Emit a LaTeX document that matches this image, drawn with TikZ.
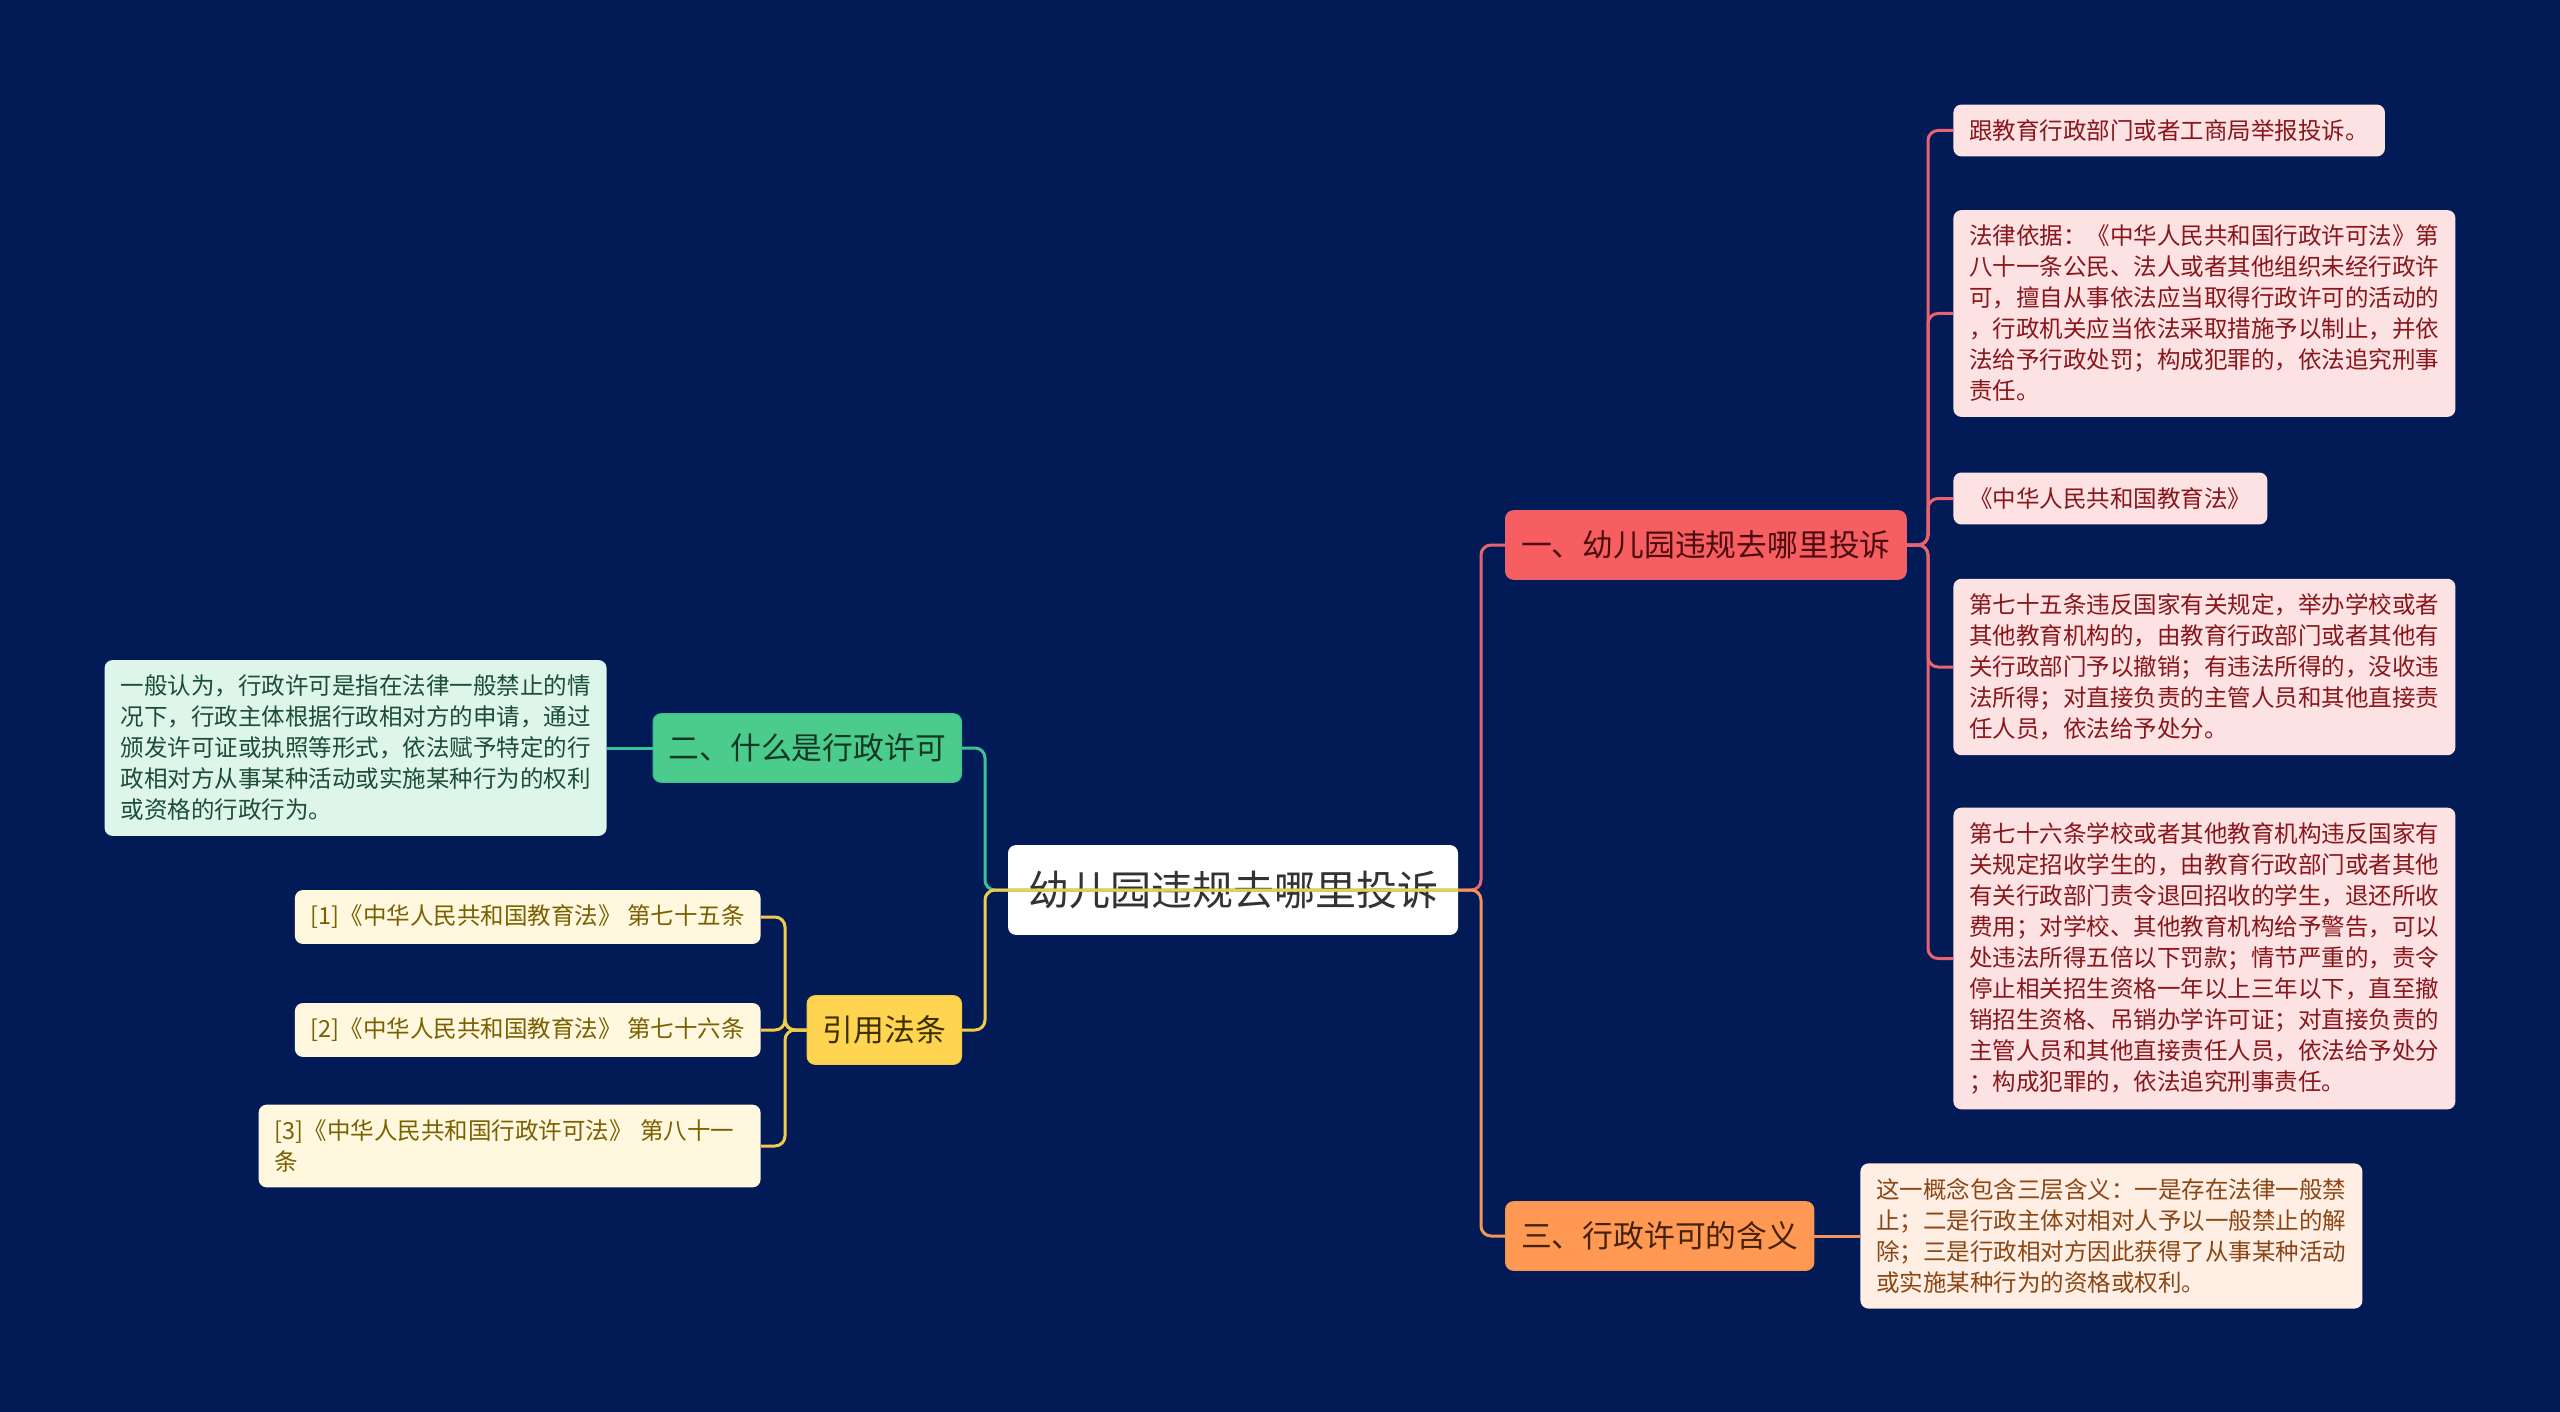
\documentclass[tikz,border=0pt]{standalone}
\usepackage{fontspec}
\newfontfamily\cjk{Noto Sans CJK SC}
\usepackage{tikz}
\usetikzlibrary{positioning,calc}
\definecolor{bgnavy}{RGB}{2,27,87}
\definecolor{redfill}{RGB}{246,94,98}
\definecolor{redline}{RGB}{232,98,112}
\definecolor{redleaf}{RGB}{253,226,228}
\definecolor{redtext}{RGB}{136,22,26}
\definecolor{orgfill}{RGB}{255,152,82}
\definecolor{orgline}{RGB}{242,150,88}
\definecolor{orgleaf}{RGB}{255,238,228}
\definecolor{orgtext}{RGB}{138,70,20}
\definecolor{grnfill}{RGB}{76,204,140}
\definecolor{grnline}{RGB}{60,192,150}
\definecolor{grnleaf}{RGB}{221,245,234}
\definecolor{grntext}{RGB}{28,78,52}
\definecolor{ylwfill}{RGB}{255,212,80}
\definecolor{ylwline}{RGB}{242,204,72}
\definecolor{ylwleaf}{RGB}{255,247,222}
\definecolor{ylwtext}{RGB}{122,96,0}
\tikzset{
  rootbox/.style={fill=white, rounded corners=4pt, inner xsep=10pt, inner ysep=13pt,
    text=black!80, font=\cjk\fontsize{20.5}{24}\selectfont},
  branchbox/.style={rounded corners=4pt, inner xsep=7.75pt, inner ysep=10pt,
    line width=0.6pt, font=\cjk\fontsize{15.4}{18}\selectfont},
  leafbox/.style={rounded corners=4pt, inner xsep=8pt, inner ysep=7.5pt, align=left,
    font=\cjk\fontsize{11.75}{15.5}\selectfont},
  link/.style={line width=1.5pt, rounded corners=5pt},
}

\begin{document}
\begin{tikzpicture}[x=0.5pt,y=-0.5pt]
\useasboundingbox (0,0) rectangle (2560,1412);
\fill[bgnavy] (0,0) rectangle (2560,1412);
% centre and the four branches
\node[rootbox] (root) at (1233,890) {幼儿园违规去哪里投诉};
\node[branchbox, fill=redfill, draw=redline, text=redtext!55!black, anchor=west] (where) at (1505,545) {一、幼儿园违规去哪里投诉};
\node[branchbox, fill=orgfill, draw=orgline, text=orgtext!50!black, anchor=west] (meaning) at (1505,1236) {三、行政许可的含义};
\node[branchbox, fill=grnfill, draw=grnline, text=grntext!70!black, anchor=east] (what) at (962,748) {二、什么是行政许可};
\node[branchbox, fill=ylwfill, draw=ylwline, text=ylwtext!50!black, anchor=east] (cite) at (962,1030) {引用法条};
% leaves
\foreach \n/\y/\t in {
  w1/130.5/{跟教育行政部门或者工商局举报投诉。},
  w2/313.5/{法律依据：《中华人民共和国行政许可法》第\\八十一条公民、法人或者其他组织未经行政许\\可，擅自从事依法应当取得行政许可的活动的\\，行政机关应当依法采取措施予以制止，并依\\法给予行政处罚；构成犯罪的，依法追究刑事\\责任。},
  w3/498.5/{《中华人民共和国教育法》},
  w4/667/{第七十五条违反国家有关规定，举办学校或者\\其他教育机构的，由教育行政部门或者其他有\\关行政部门予以撤销；有违法所得的，没收违\\法所得；对直接负责的主管人员和其他直接责\\任人员，依法给予处分。},
  w5/958.5/{第七十六条学校或者其他教育机构违反国家有\\关规定招收学生的，由教育行政部门或者其他\\有关行政部门责令退回招收的学生，退还所收\\费用；对学校、其他教育机构给予警告，可以\\处违法所得五倍以下罚款；情节严重的，责令\\停止相关招生资格一年以上三年以下，直至撤\\销招生资格、吊销办学许可证；对直接负责的\\主管人员和其他直接责任人员，依法给予处分\\；构成犯罪的，依法追究刑事责任。}}
  \node[leafbox, fill=redleaf, text=redtext, anchor=west] (\n) at (1953,\y) {\t};
\node[leafbox, fill=orgleaf, text=orgtext, anchor=west] (meanleaf) at (1860,1236) {这一概念包含三层含义：一是存在法律一般禁\\止；二是行政主体对相对人予以一般禁止的解\\除；三是行政相对方因此获得了从事某种活动\\或实施某种行为的资格或权利。};
\node[leafbox, fill=grnleaf, text=grntext, anchor=east] (whatleaf) at (607,748) {一般认为，行政许可是指在法律一般禁止的情\\况下，行政主体根据行政相对方的申请，通过\\颁发许可证或执照等形式，依法赋予特定的行\\政相对方从事某种活动或实施某种行为的权利\\或资格的行政行为。};
\foreach \n/\y/\t in {
  c1/917/{[1]《中华人民共和国教育法》 第七十五条},
  c2/1030/{[2]《中华人民共和国教育法》 第七十六条}}
  \node[leafbox, fill=ylwleaf, text=ylwtext, anchor=east] (\n) at (761,\y) {\t};
\node[leafbox, fill=ylwleaf, text=ylwtext, anchor=east, text width=235pt] (c3) at (761,1146) {[3]《中华人民共和国行政许可法》 第八十一\\条};
% connectors
\coordinate (rootR) at (1481,890);
\coordinate (rootL) at (985,890);
\coordinate (whereJ) at (1928,545);
\coordinate (citeJ) at (785,1030);
\draw[link, redline] (root.east) -- (rootR) |- (where.west);
\draw[link, orgline] (root.east) -- (rootR) |- (meaning.west);
\draw[link, grnline] (root.east) -- (rootL) |- (what.east);
\draw[link, ylwline] (root.east) -- (rootL) |- (cite.east);
\foreach \n in {w1,w2,w3,w4,w5}
  \draw[link, redline] (where.east) -- (whereJ) |- (\n.west);
\draw[link, orgline] (meaning.east) -- (meanleaf.west);
\draw[link, grnline] (what.west) -- (whatleaf.east);
\foreach \n in {c1,c2,c3}
  \draw[link, ylwline] (cite.west) -- (citeJ) |- (\n.east);
\end{tikzpicture}
\end{document}
